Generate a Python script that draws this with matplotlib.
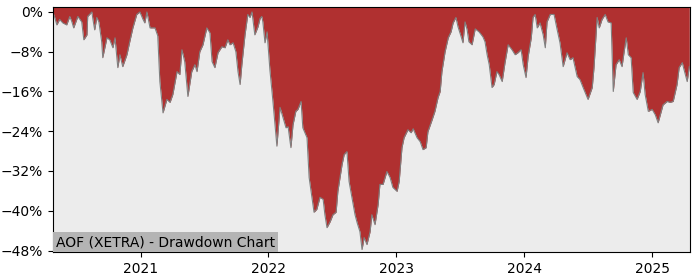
import numpy as np
import pandas as pd
import matplotlib
matplotlib.use("Agg")
import matplotlib.pyplot as plt
import matplotlib.dates as mdates
from matplotlib.ticker import PercentFormatter

# AOF (XETRA) drawdown (percent below running peak)
dates = [
    "2020-04-26", "2020-04-28", "2020-05-01", "2020-05-07", "2020-05-15", "2020-05-24",
    "2020-06-04", "2020-06-13", "2020-06-19", "2020-06-24", "2020-07-06", "2020-07-17",
    "2020-07-23", "2020-08-01", "2020-08-03", "2020-08-15", "2020-08-18", "2020-08-23",
    "2020-08-29", "2020-09-04", "2020-09-12", "2020-09-15", "2020-09-27", "2020-10-05",
    "2020-10-14", "2020-10-20", "2020-10-28", "2020-11-03", "2020-11-11", "2020-11-23",
    "2020-12-01", "2020-12-10", "2020-12-21", "2020-12-30", "2021-01-08", "2021-01-13",
    "2021-01-19", "2021-01-28", "2021-02-11", "2021-02-19", "2021-02-25", "2021-03-06",
    "2021-03-17", "2021-03-26", "2021-04-03", "2021-04-15", "2021-04-23", "2021-04-29",
    "2021-05-07", "2021-05-16", "2021-05-27", "2021-06-05", "2021-06-11", "2021-06-19",
    "2021-06-28", "2021-07-09", "2021-07-18", "2021-07-24", "2021-08-01", "2021-08-10",
    "2021-08-21", "2021-08-30", "2021-09-07", "2021-09-13", "2021-09-22", "2021-09-30",
    "2021-10-06", "2021-10-12", "2021-10-17", "2021-10-26", "2021-11-03", "2021-11-09",
    "2021-11-15", "2021-11-23", "2021-12-02", "2021-12-08", "2021-12-13", "2021-12-16",
    "2021-12-22", "2021-12-28", "2022-01-05", "2022-01-14", "2022-01-25", "2022-02-03",
    "2022-02-11", "2022-02-20", "2022-02-26", "2022-03-06", "2022-03-12", "2022-03-20",
    "2022-03-26", "2022-04-04", "2022-04-09", "2022-04-21", "2022-04-27", "2022-05-05",
    "2022-05-11", "2022-05-19", "2022-05-28", "2022-06-06", "2022-06-11", "2022-06-17",
    "2022-06-26", "2022-07-04", "2022-07-13", "2022-07-18", "2022-07-30", "2022-08-05",
    "2022-08-13", "2022-08-19", "2022-08-27", "2022-09-05", "2022-09-11", "2022-09-19",
    "2022-09-25", "2022-10-01", "2022-10-09", "2022-10-18", "2022-10-23", "2022-11-01",
    "2022-11-10", "2022-11-15", "2022-11-24", "2022-12-05", "2022-12-14", "2022-12-22",
    "2023-01-03", "2023-01-09", "2023-01-17", "2023-01-23", "2023-02-03", "2023-02-12",
    "2023-02-18", "2023-03-01", "2023-03-10", "2023-03-18", "2023-03-27", "2023-04-01",
    "2023-04-13", "2023-04-21", "2023-04-30", "2023-05-06", "2023-05-11", "2023-05-20",
    "2023-05-29", "2023-06-06", "2023-06-12", "2023-06-20", "2023-06-26", "2023-07-05",
    "2023-07-10", "2023-07-16", "2023-07-22", "2023-07-27", "2023-08-05", "2023-08-14",
    "2023-08-25", "2023-09-05", "2023-09-11", "2023-09-17", "2023-09-23", "2023-10-01",
    "2023-10-07", "2023-10-15", "2023-10-21", "2023-10-30", "2023-11-07", "2023-11-16",
    "2023-11-27", "2023-12-06", "2023-12-14", "2023-12-23", "2023-12-29", "2024-01-06",
    "2024-01-12", "2024-01-21", "2024-01-26", "2024-02-01", "2024-02-07", "2024-02-15",
    "2024-02-24", "2024-03-01", "2024-03-06", "2024-03-15", "2024-03-26", "2024-04-04",
    "2024-04-12", "2024-04-21", "2024-05-02", "2024-05-11", "2024-05-19", "2024-05-31",
    "2024-06-08", "2024-06-17", "2024-07-01", "2024-07-13", "2024-07-18", "2024-07-27",
    "2024-08-02", "2024-08-10", "2024-08-19", "2024-08-27", "2024-09-05", "2024-09-11",
    "2024-09-19", "2024-09-28", "2024-10-06", "2024-10-12", "2024-10-18", "2024-10-24",
    "2024-11-01", "2024-11-07", "2024-11-18", "2024-11-27", "2024-12-05", "2024-12-11",
    "2024-12-20", "2024-12-31", "2025-01-09", "2025-01-17", "2025-01-26", "2025-01-31",
    "2025-02-12", "2025-02-20", "2025-03-01", "2025-03-12", "2025-03-18", "2025-03-27",
    "2025-04-01", "2025-04-10", "2025-04-16",
]

drawdown_pct = [
    0.0, -0.5, -1.1, -2.6, -1.5, -2.2,
    -2.6, -0.9, -2.0, -3.2, -0.9, -2.0,
    -5.6, -4.6, -0.9, 0.0, -1.5, -3.6,
    -1.1, -2.0, -6.0, -9.2, -5.2, -5.6,
    -7.2, -5.2, -11.2, -8.6, -11.0, -8.6,
    -6.0, -3.2, -0.5, 0.0, -1.5, -2.2,
    0.0, -3.2, -3.2, -4.8, -14.0, -20.3,
    -17.6, -18.2, -16.6, -12.0, -12.6, -7.6,
    -10.0, -17.0, -12.0, -10.6, -12.0, -8.0,
    -6.6, -3.2, -4.2, -10.0, -11.2, -8.2,
    -7.0, -7.2, -5.6, -6.6, -6.2, -8.0,
    -12.0, -14.6, -10.6, -4.6, -0.5, -1.1,
    0.0, -4.6, -3.0, -1.3, -0.9, -2.0,
    -6.2, -4.0, -11.6, -18.2, -27.0, -19.2,
    -21.1, -23.3, -23.1, -27.3, -22.7, -20.0,
    -19.6, -18.0, -23.3, -25.3, -33.3, -37.3,
    -40.3, -39.7, -37.3, -37.7, -40.8, -43.4,
    -42.2, -40.8, -40.3, -36.1, -30.7, -28.7,
    -28.1, -34.1, -37.3, -40.8, -42.4, -44.2,
    -47.8, -45.4, -46.8, -44.2, -40.8, -42.8,
    -38.7, -34.7, -34.7, -32.1, -33.3, -35.3,
    -36.1, -34.1, -27.3, -25.3, -23.7, -24.3,
    -23.5, -25.3, -26.1, -27.7, -27.3, -24.1,
    -21.7, -20.0, -17.2, -16.0, -12.0, -8.0,
    -5.2, -4.0, -2.2, -1.1, -3.0, -5.0,
    -6.2, -2.0, -3.6, -6.0, -6.6, -3.4,
    -4.0, -5.0, -6.0, -8.6, -10.6, -15.2,
    -14.6, -12.0, -12.6, -14.0, -10.2, -6.6,
    -7.6, -8.6, -8.2, -7.6, -10.6, -13.2,
    -9.0, -5.2, -1.1, -0.5, -3.2, -2.2,
    -4.6, -7.2, -2.0, -0.5, -0.5, -3.6,
    -6.2, -11.0, -8.2, -9.6, -9.2, -13.0,
    -13.6, -15.2, -17.6, -15.2, -11.2, -1.1,
    -3.2, -1.5, -0.5, -2.0, -2.2, -16.0,
    -10.6, -9.6, -11.0, -8.0, -5.2, -8.6,
    -9.2, -16.2, -17.6, -16.0, -12.2, -16.6,
    -20.0, -19.6, -20.7, -22.3, -20.0, -18.7,
    -18.0, -18.2, -18.0, -14.6, -11.2, -10.2,
    -11.6, -14.0, -11.0,
]

title_text = "AOF (XETRA) - Drawdown Chart"
x_start, x_end = "2020-04-26", "2025-04-18"
y_bottom, y_top = -48.3, 1.0
y_ticks = [0, -8, -16, -24, -32, -40, -48]


def main():
    x = pd.to_datetime(dates)
    dd = np.array(drawdown_pct)

    fig = plt.figure(figsize=(7, 2.8), dpi=100)
    ax = fig.add_axes([0.0757, 0.1, 0.91, 0.875])
    ax.set_facecolor("#ececec")

    # red area from the drawdown curve up to the top of the axes, thin grey edge
    ax.fill_between(x, dd, y_top + 1, color="#b03030", linewidth=0)
    ax.plot(x, dd, color="#808080", linewidth=0.8)

    ax.set_xlim(pd.Timestamp(x_start), pd.Timestamp(x_end))
    ax.set_ylim(y_bottom, y_top)
    ax.set_yticks(y_ticks)
    ax.yaxis.set_major_formatter(PercentFormatter(decimals=0))
    ax.xaxis.set_major_locator(mdates.YearLocator())
    ax.xaxis.set_major_formatter(mdates.DateFormatter("%Y"))

    ax.text(0.0045, 0.012, title_text, transform=ax.transAxes, fontsize=10,
            ha="left", va="bottom",
            bbox=dict(facecolor="#b4b4b4", edgecolor="none", pad=2))

    fig.savefig("out.png", dpi=100)


if __name__ == "__main__":
    main()
